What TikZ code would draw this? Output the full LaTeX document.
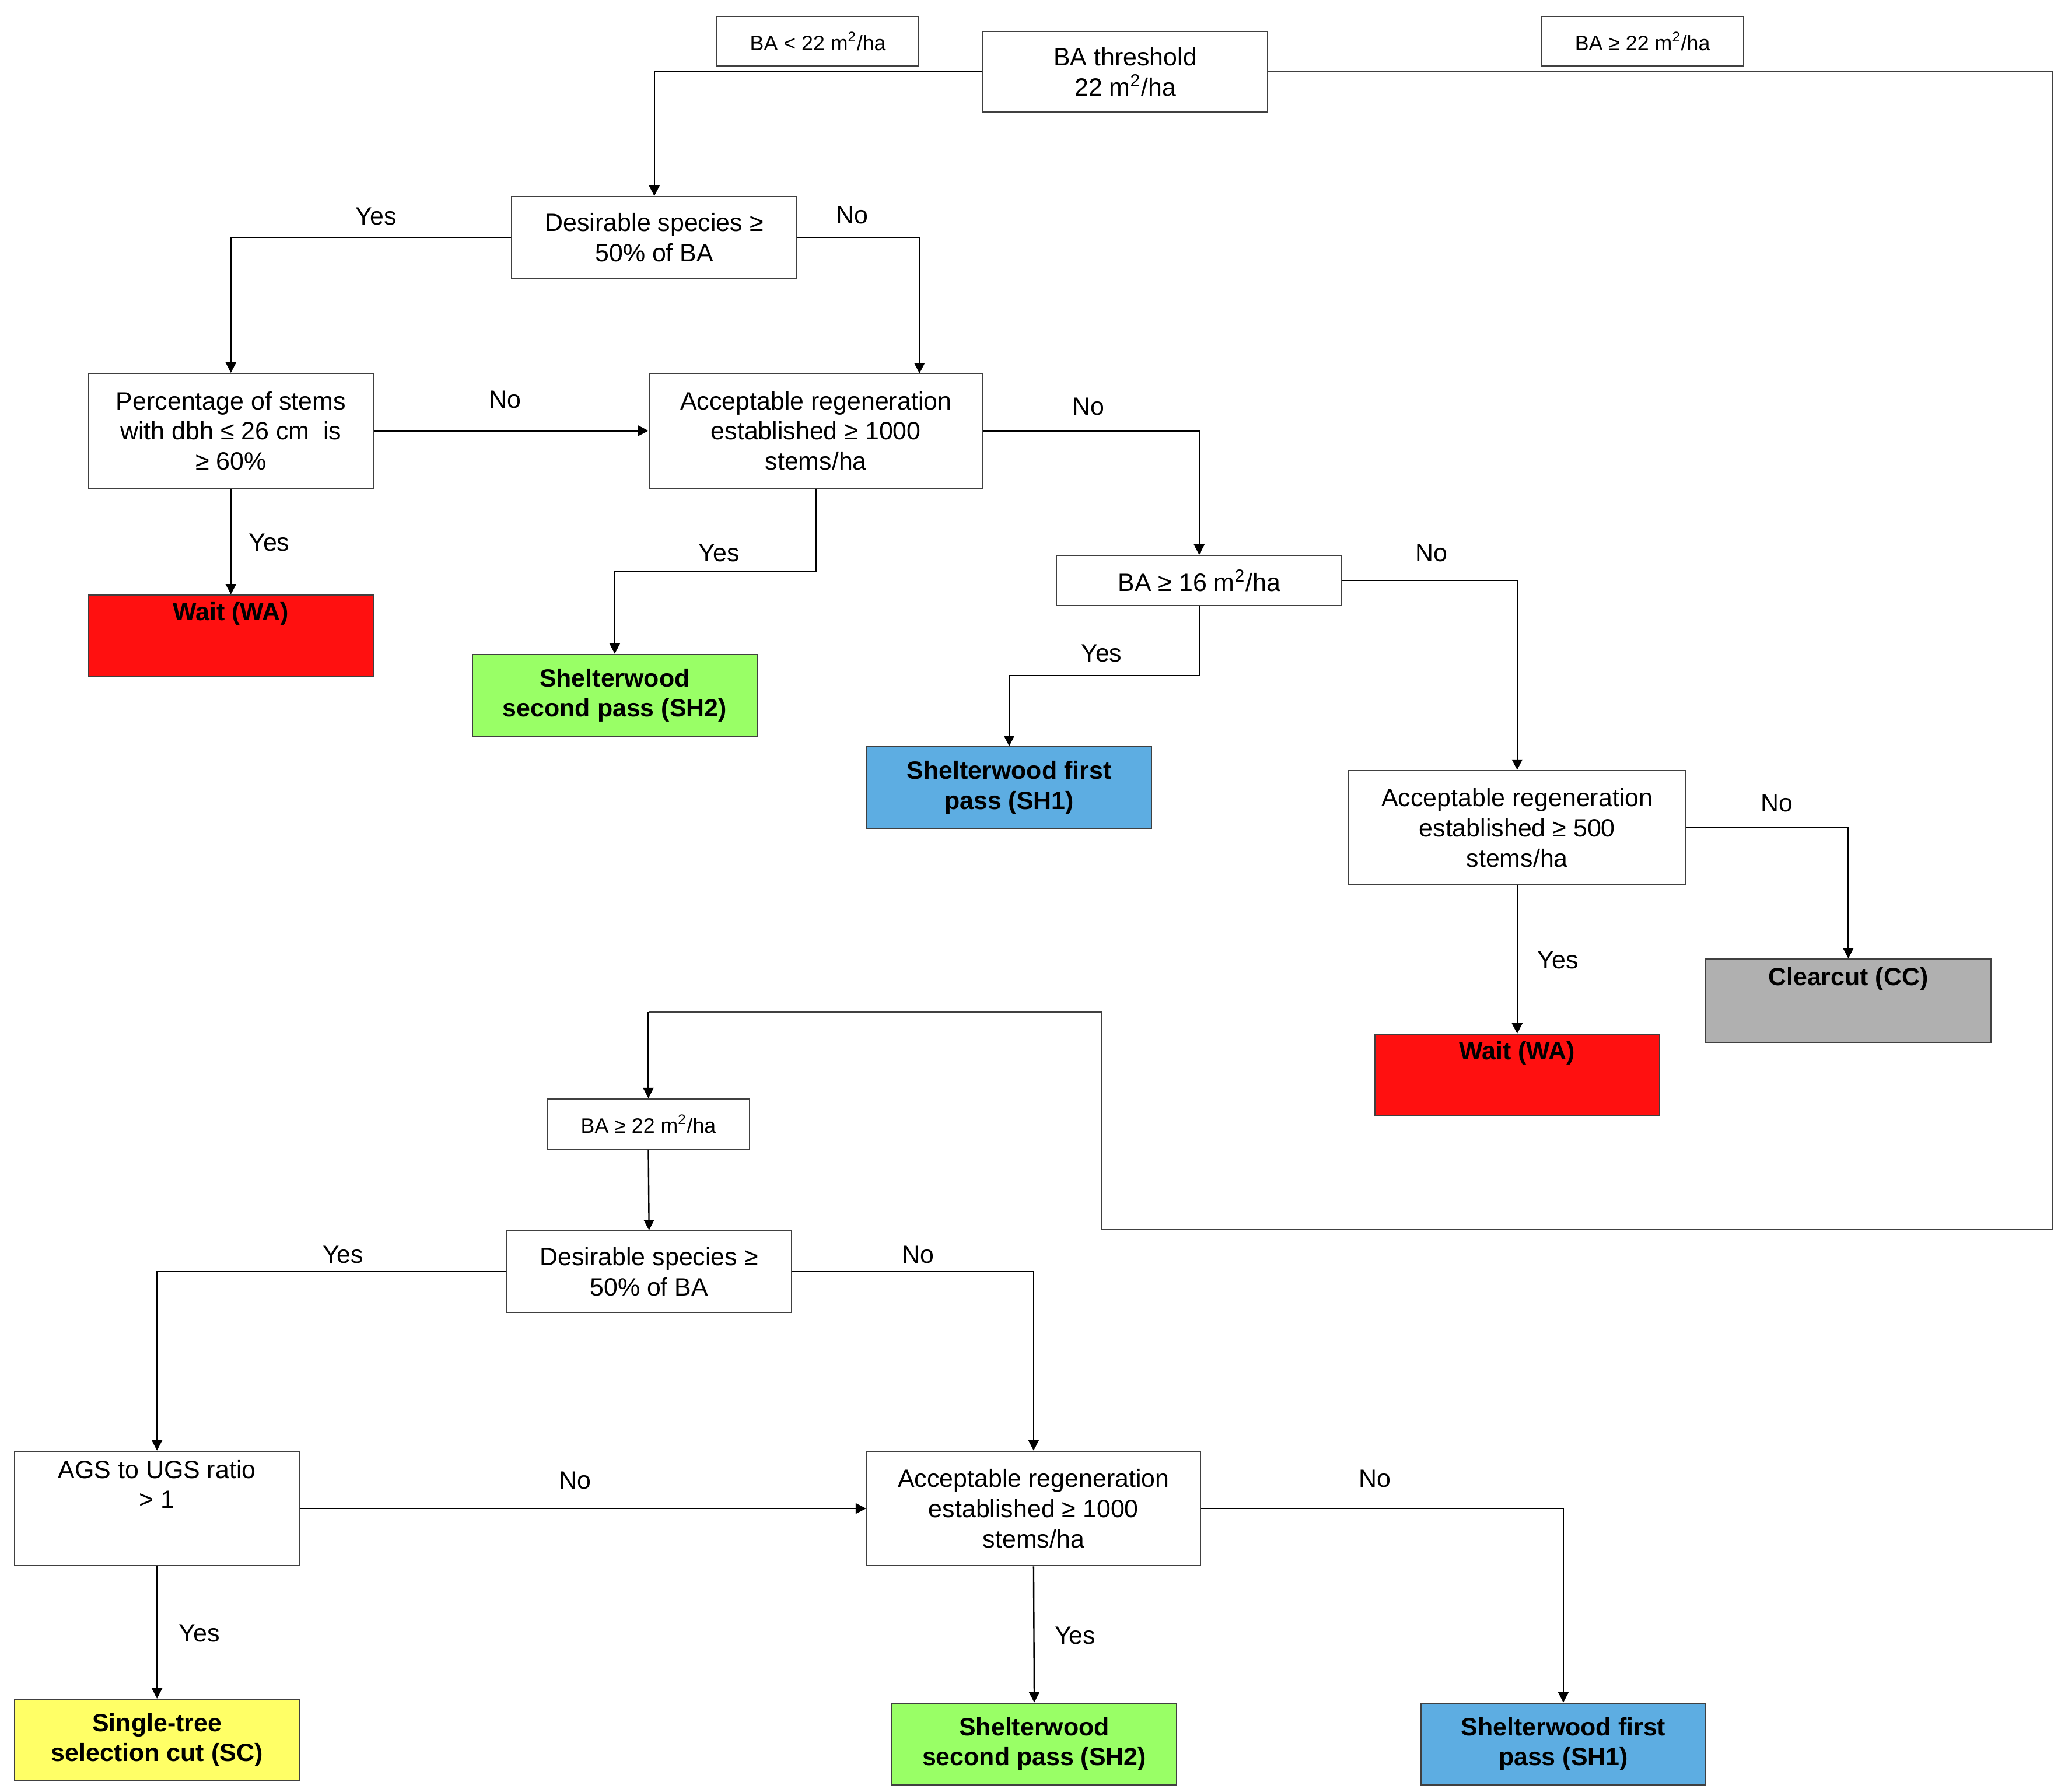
\documentclass[tikz,border=0pt]{standalone}
\usepackage{fontspec}
\setmainfont{Liberation Sans}
\usetikzlibrary{arrows.meta}
\begin{document}
\begin{tikzpicture}[x=0.02cm,y=-0.02cm,
  box/.style={draw=black!75,line width=0.5pt,align=center,inner sep=1pt,font=\fontsize{10.8}{13}\selectfont},
  res/.style={box,font=\fontsize{10.8}{13}\selectfont\bfseries},
  lbl/.style={box,font=\fontsize{9}{11}\selectfont},
  con/.style={draw=black,line width=0.6pt,-{Triangle[width=4.5pt,length=4.5pt]}},
  ln/.style={draw=black!75,line width=0.5pt},
  t/.style={font=\fontsize{10.8}{13}\selectfont}]
\useasboundingbox (0,0) rectangle (1560,1358);
\definecolor{cred}{HTML}{FF1010}
\definecolor{cgreen}{HTML}{99FF66}
\definecolor{cblue}{HTML}{5DADE2}
\definecolor{cgray}{HTML}{B0B0B0}
\definecolor{cyel}{HTML}{FFFF66}
\def\sq{m\textsuperscript{2}/ha}
\node[box,minimum width=216*0.02cm,minimum height=61*0.02cm] (thr) at (853,54.5) {BA threshold\\22 \sq};
\node[lbl,minimum width=153*0.02cm,minimum height=37*0.02cm] (l1) at (620,31.5) {BA < 22 \sq};
\node[lbl,minimum width=153*0.02cm,minimum height=37*0.02cm] (l2) at (1245,31.5) {BA ≥ 22 \sq};
\node[box,minimum width=216*0.02cm,minimum height=62*0.02cm] (d1) at (496,180) {Desirable species ≥\\50\% of BA};
\node[box,minimum width=216*0.02cm,minimum height=87*0.02cm] (p1) at (175,326.5) {Percentage of stems\\with dbh ≤ 26 cm\ \ is\\≥ 60\%};
\node[box,minimum width=253*0.02cm,minimum height=87*0.02cm] (a1) at (618.5,326.5) {Acceptable regeneration\\established ≥ 1000\\stems/ha};
\node[res,fill=cred,minimum width=216*0.02cm,minimum height=62*0.02cm] (wa1) at (175,482) {Wait (WA)\\[8pt]};
\node[res,fill=cgreen,minimum width=216*0.02cm,minimum height=62*0.02cm] (sh2a) at (466,527) {Shelterwood\\second pass (SH2)};
\node[box,minimum width=216*0.02cm,minimum height=38*0.02cm] (b16) at (909,440) {BA ≥ 16 \sq};
\node[res,fill=cblue,minimum width=216*0.02cm,minimum height=62*0.02cm] (sh1a) at (765,597) {Shelterwood first\\pass (SH1)};
\node[box,minimum width=256*0.02cm,minimum height=87*0.02cm] (a2) at (1150,627.5) {Acceptable regeneration\\established ≥ 500\\stems/ha};
\node[res,fill=cgray,minimum width=216*0.02cm,minimum height=63*0.02cm] (cc) at (1401,758.5) {Clearcut (CC)\\[8pt]};
\node[res,fill=cred,minimum width=216*0.02cm,minimum height=62*0.02cm] (wa2) at (1150,815) {Wait (WA)\\[8pt]};
\node[lbl,minimum width=153*0.02cm,minimum height=38*0.02cm] (l3) at (491.5,852) {BA ≥ 22 \sq};
\node[box,minimum width=216*0.02cm,minimum height=62*0.02cm] (d2) at (492,964) {Desirable species ≥\\50\% of BA};
\node[box,minimum width=216*0.02cm,minimum height=87*0.02cm] (ags) at (119,1143.5) {AGS to UGS ratio\\> 1\\[8pt]};
\node[box,minimum width=253*0.02cm,minimum height=87*0.02cm] (a3) at (783.5,1143.5) {Acceptable regeneration\\established ≥ 1000\\stems/ha};
\node[res,fill=cyel,minimum width=216*0.02cm,minimum height=62*0.02cm] (sc) at (119,1319) {Single-tree\\selection cut (SC)};
\node[res,fill=cgreen,minimum width=216*0.02cm,minimum height=62*0.02cm] (sh2b) at (784,1322) {Shelterwood\\second pass (SH2)};
\node[res,fill=cblue,minimum width=216*0.02cm,minimum height=62*0.02cm] (sh1b) at (1185,1322) {Shelterwood first\\pass (SH1)};
% connectors
\draw[con] (thr.west) -| (d1.north);
\coordinate (c1) at (1556,54.5);
\coordinate (c2) at (1556,932);
\coordinate (c3) at (835,932);
\coordinate (c4) at (835,767);
\coordinate (c5) at (491.5,767);
\draw[ln] (thr.east) -- (c1) -- (c2) -- (c3) -- (c4) -- (c5);
\draw[con] (c5) -- (l3.north);
\draw[con] (l3.south) -- (d2.north);
\draw[con] (d1.west) -| (p1.north);
\draw[con] (d1.east) -| (697,283);
\draw[con] (p1.east) -- (a1.west);
\draw[con] (p1.south) -- (wa1.north);
\draw[con] (a1.south) |- (466,433) -- (sh2a.north);
\draw[con] (a1.east) -| (b16.north);
\draw[con] (b16.south) |- (765,512) -- (sh1a.north);
\draw[con] (b16.east) -| (a2.north);
\draw[con] (a2.east) -| (cc.north);
\draw[con] (a2.south) -- (wa2.north);
\draw[con] (d2.west) -| (ags.north);
\draw[con] (d2.east) -| (a3.north);
\draw[con] (ags.east) -- (a3.west);
\draw[con] (ags.south) -- (sc.north);
\draw[con] (a3.south) -- (sh2b.north);
\draw[con] (a3.east) -| (sh1b.north);
% labels
\node[t] at (285,164) {Yes};
\node[t] at (646,163) {No};
\node[t] at (383,303) {No};
\node[t] at (204,411) {Yes};
\node[t] at (545,419) {Yes};
\node[t] at (825,308) {No};
\node[t] at (835,495) {Yes};
\node[t] at (1085,419) {No};
\node[t] at (1347,609) {No};
\node[t] at (1181,728) {Yes};
\node[t] at (260,951) {Yes};
\node[t] at (696,951) {No};
\node[t] at (436,1122) {No};
\node[t] at (151,1238) {Yes};
\node[t] at (815,1240) {Yes};
\node[t] at (1042,1121) {No};
\end{tikzpicture}
\end{document}
